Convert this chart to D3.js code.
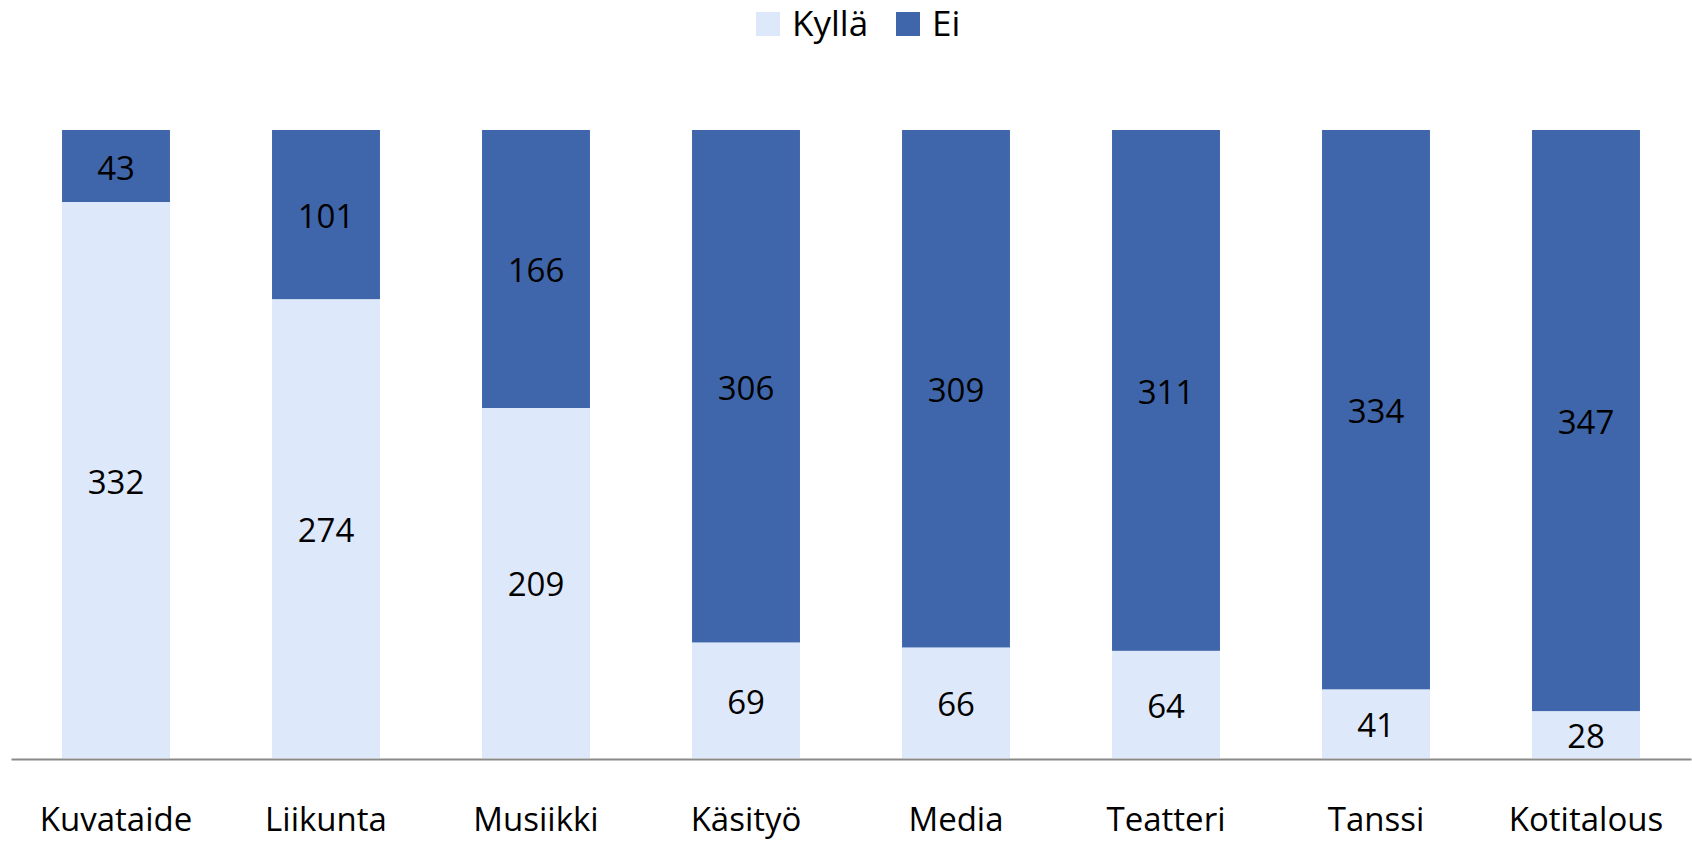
<!DOCTYPE html>
<html lang="fi">
<head>
<meta charset="UTF-8">
<title>Kyllä / Ei</title>
<script src="https://cdn.jsdelivr.net/npm/d3@7"></script>
<style>
    body { margin: 0; background: #fff; }
    text { font-family: "Open Sans", "Noto Sans", sans-serif; fill: #000; }
    .val { font-size: 33px; }
    .legend text { font-size: 35px; }
</style>
</head>
<body>
<svg id="chart" width="1692" height="842"></svg>
<script>
    // data
    let categories = ['Kuvataide', 'Liikunta', 'Musiikki', 'Käsityö', 'Media', 'Teatteri', 'Tanssi', 'Kotitalous']
    let kylla = [332, 274, 209, 69, 66, 64, 41, 28]
    let ei = [43, 101, 166, 306, 309, 311, 334, 347]
    let seriesNames = ['Kyllä', 'Ei']
    let colors = ['#dee8fb', '#3f66aa']

    let svg = d3.select('#chart')

    let rows = categories.map(function (c, i) { return { cat: c, 'Kyllä': kylla[i], 'Ei': ei[i] } })
    let stacked = d3.stack().keys(seriesNames)(rows)

    let x = d3.scaleBand()
        .domain(categories)
        .range([11, 1691])
        .paddingInner(0.486)
        .paddingOuter(0.243)

    let y = d3.scaleLinear()
        .domain([0, d3.max(rows, function (d) { return d['Kyllä'] + d['Ei'] })])
        .range([758, 130])

    let color = d3.scaleOrdinal().domain(seriesNames).range(colors)

    // bars
    let layers = svg.selectAll('g.layer')
        .data(stacked)
        .join('g')
        .attr('class', 'layer')
        .attr('fill', function (d) { return color(d.key) })

    layers.selectAll('rect')
        .data(function (d) { return d })
        .join('rect')
        .attr('x', function (d) { return x(d.data.cat) })
        .attr('width', x.bandwidth())
        .attr('y', function (d) { return y(d[1]) })
        .attr('height', function (d) { return y(d[0]) - y(d[1]) })

    // value labels
    layers.selectAll('text')
        .data(function (d) { return d })
        .join('text')
        .attr('class', 'val')
        .attr('text-anchor', 'middle')
        .attr('dominant-baseline', 'central')
        .attr('x', function (d) { return x(d.data.cat) + x.bandwidth() / 2 })
        .attr('y', function (d) { return (y(d[0]) + y(d[1])) / 2 + 1 })
        .text(function (d) { return d[1] - d[0] })

    // x axis
    let xAxis = svg.append('g')
        .attr('transform', 'translate(0,759)')
        .call(d3.axisBottom(x).tickSize(0).tickPadding(0))
    xAxis.select('.domain').attr('stroke', '#898989').attr('stroke-width', 2)
    xAxis.selectAll('.tick text')
        .attr('fill', '#000')
        .attr('dy', null)
        .attr('y', 72)
        .style('font-size', '33px')
        .style('font-family', '"Open Sans", "Noto Sans", sans-serif')

    // legend
    let legend = svg.append('g').attr('class', 'legend')
    let legendX = [756, 896]
    seriesNames.forEach(function (name, i) {
        legend.append('rect')
            .attr('x', legendX[i])
            .attr('y', 12)
            .attr('width', 24)
            .attr('height', 24)
            .attr('fill', color(name))
        legend.append('text')
            .attr('x', legendX[i] + 36)
            .attr('y', 36)
            .text(name)
    })
</script>
</body>
</html>
